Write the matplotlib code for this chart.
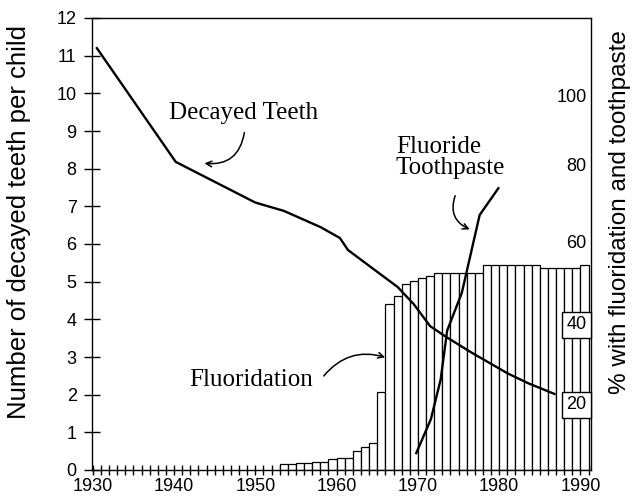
import matplotlib
matplotlib.use("Agg")
import matplotlib.pyplot as plt
from matplotlib.ticker import MultipleLocator

# Decayed teeth per child (left scale)
decay_years = [1930.5, 1940.2, 1950, 1953.5, 1958, 1960.4, 1961.4, 1965, 1967.5,
               1969.5, 1971.5, 1973.5, 1976.5, 1981, 1983.5, 1986.8]
decay_vals = [11.2, 8.18, 7.1, 6.88, 6.45, 6.16, 5.84, 5.26, 4.86,
              4.4, 3.82, 3.53, 3.13, 2.57, 2.31, 2.02]

# Fluoride toothpaste curve (drawn on the left scale)
paste_years = [1969.8, 1971.6, 1972.8, 1973.6, 1975.4, 1977.6, 1979.9]
paste_vals = [0.45, 1.35, 2.4, 3.7, 4.7, 6.77, 7.48]

# Fluoridation bars, one per year (drawn on the left scale)
fluor_years = list(range(1953, 1991))
fluor_vals = [0.15, 0.15, 0.18, 0.18, 0.2, 0.2, 0.3, 0.33, 0.33, 0.5, 0.61, 0.72,
              2.07, 4.4, 4.62, 4.93, 5.02, 5.1, 5.15,
              5.23, 5.23, 5.23, 5.23, 5.23, 5.23,
              5.44, 5.44, 5.44, 5.44, 5.44, 5.44, 5.44,
              5.36, 5.36, 5.36, 5.36, 5.36, 5.44]

# right-hand % labels and where they sit on the left scale
pct_labels = ["100", "80", "60", "40", "20"]
pct_pos = [9.88, 8.06, 6.02, 3.85, 1.73]
pct_boxed = [False, False, False, True, True]

sans = "Liberation Sans"
serif = "Liberation Serif"

fig = plt.figure(figsize=(6.36, 5.0), dpi=100)
ax = fig.add_axes([92 / 636, 30 / 500, 499 / 636, 452 / 500])

ax.bar(fluor_years, fluor_vals, width=1, align="edge", color="white",
       edgecolor="black", linewidth=0.9, zorder=2)
ax.plot(decay_years, decay_vals, color="black", lw=1.7, zorder=4)
ax.plot(paste_years, paste_vals, color="black", lw=1.7, zorder=4)

ax.set_xlim(1929.9, 1991.3)
ax.set_ylim(0, 12)
ax.set_xticks(range(1930, 1991, 10))
ax.xaxis.set_minor_locator(MultipleLocator(1))
ax.set_yticks(range(0, 13))
for s in ax.spines.values():
    s.set_linewidth(1.0)

ax.tick_params(axis="y", which="major", direction="inout", length=12,
               width=1, labelsize=13, pad=5)
ax.tick_params(axis="x", which="both", direction="inout", length=7,
               width=1, labelsize=13, pad=2)
for lab in ax.get_xticklabels() + ax.get_yticklabels():
    lab.set_fontfamily(sans)

# % labels on the right
tr = ax.get_yaxis_transform()
for lab, pos, boxed in zip(pct_labels, pct_pos, pct_boxed):
    kw = {}
    if boxed:
        kw["bbox"] = dict(boxstyle="square,pad=0.25", fc="white", ec="black", lw=1)
    ax.text(0.991, pos, lab, transform=tr, ha="right", va="center",
            fontsize=13, family=sans, zorder=6, **kw)

# annotations
ax.text(1948.5, 9.48, "Decayed Teeth", fontsize=18, family=serif,
        ha="center", va="center")
ax.annotate("", xy=(1943.4, 8.15), xytext=(1948.7, 9.03),
            arrowprops=dict(arrowstyle="->", lw=1.1, color="black",
                            connectionstyle="arc3,rad=-0.5"))

ax.text(1967.3, 8.86, "Fluoride\nToothpaste", fontsize=18, family=serif,
        ha="left", va="top", linespacing=0.95)
ax.annotate("", xy=(1976.7, 6.36), xytext=(1974.7, 7.35),
            arrowprops=dict(arrowstyle="->", lw=1.1, color="black",
                            connectionstyle="arc3,rad=0.5"))

ax.text(1941.9, 2.39, "Fluoridation", fontsize=18, family=serif,
        ha="left", va="center", zorder=5)
ax.annotate("", xy=(1966.3, 2.97), xytext=(1958.2, 2.44),
            arrowprops=dict(arrowstyle="->", lw=1.1, color="black",
                            connectionstyle="arc3,rad=-0.35"))

fig.text(0.030, 0.556, "Number of decayed teeth per child", rotation=90,
         ha="center", va="center", fontsize=18.5, family=sans)
fig.text(0.975, 0.576, "% with fluoridation and toothpaste", rotation=90,
         ha="center", va="center", fontsize=17.5, family=sans)

fig.savefig("out.png", dpi=100)
